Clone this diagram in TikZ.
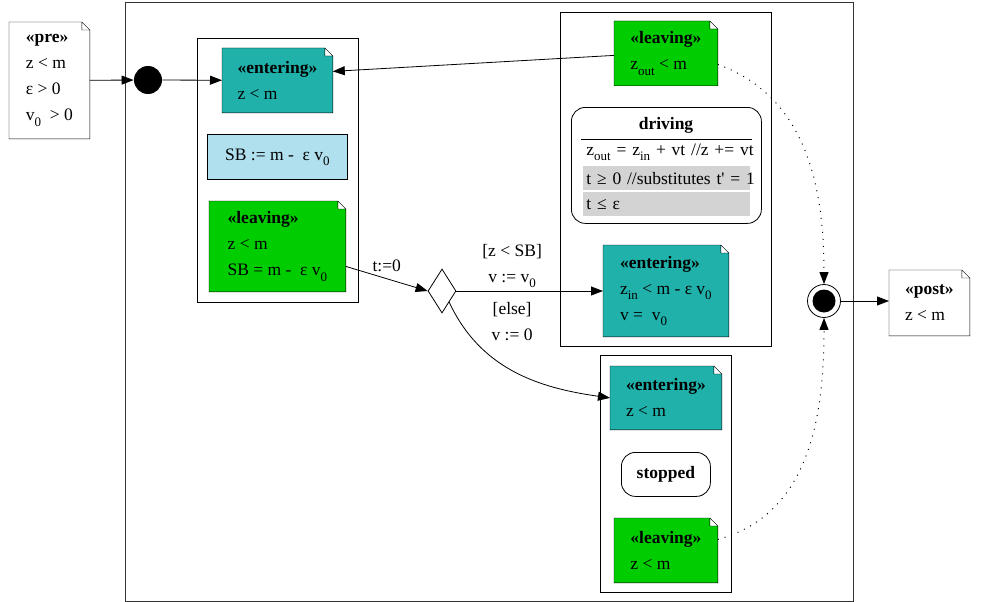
\documentclass[tikz,border=0pt]{standalone}
\usepackage{fontspec}
\setmainfont{Liberation Serif}
\usetikzlibrary{arrows.meta,shapes.geometric,backgrounds}
\definecolor{entercol}{HTML}{20B2AA}
\definecolor{leavecol}{HTML}{00CD00}
\definecolor{sbcol}{HTML}{B0DFEE}
\definecolor{rowcol}{HTML}{D3D3D3}
\newcommand{\lowtx}[1]{\raisebox{-0.3em}{\fontsize{13}{13}\selectfont #1}}
\newcommand{\bodyfont}{\fontsize{17.5}{26}\selectfont}
\hfuzz=20pt
\tikzset{
  note/.style     = {anchor=north west, align=left, inner sep=0pt,
                     font=\bodyfont},
  sbbox/.style    = {draw, fill=sbcol, anchor=north west, inner sep=0pt,
                     font=\bodyfont},
  statebox/.style = {draw, anchor=north west, inner sep=0pt,
                     rounded corners=14pt, font=\bodyfont\bfseries},
  row/.style      = {anchor=north west, align=left, inner xsep=3pt,
                     inner ysep=0pt, minimum height=24pt, text width=161pt,
                     font=\bodyfont},
  initdot/.style  = {circle, fill=black, minimum size=28pt, inner sep=0pt},
  finaldot/.style = {circle, draw, minimum size=33pt, inner sep=0pt,
                     path picture={\fill (path picture bounding box.center)
                     circle (11.5pt);}},
  choice/.style   = {diamond, draw, minimum width=28pt, minimum height=44pt,
                     inner sep=0pt},
  lbl/.style      = {align=center, inner sep=2pt, font=\bodyfont},
  edge/.style     = {draw, -{Triangle[length=12pt,width=9pt]}},
  dotedge/.style  = {edge, line width=1pt, dash pattern=on 1pt off 6pt}
}

\begin{document}
\begin{tikzpicture}[x=1pt, y=-1pt, line width=0.8pt]
  \useasboundingbox (0,0) rectangle (983,602);

  % frames
  \draw[black!80] (125,2) rectangle (853,601);
  \draw (197,38) rectangle (358,302);
  \draw (560,12) rectangle (771,346);
  \draw (600,355) rectangle (731,592);

  % pre / post
  \node[note, minimum width=80pt, minimum height=116pt] (pre) at (9,22)
    {\textbf{«pre»}\\z < m\\ε > 0\\v\lowtx{0}\ \ > 0};
  \node[note, minimum width=80pt, minimum height=65pt] (post) at (889,270)
    {\textbf{«post»}\\z < m\hspace{20pt}};

  \node[initdot] (init) at (148,80) {};
  \node[finaldot] (fin) at (824,301) {};

  % left state
  \node[note, minimum width=110pt, minimum height=64pt] (ent1) at (222,48)
    {\textbf{«entering»}\\z < m};
  \node[sbbox, minimum width=140pt, minimum height=45pt] (sb) at (207,134)
    {SB := m -\ \ ε v\lowtx{0}};
  \node[note, minimum width=136pt, minimum height=90pt] (leav1) at (209,201)
    {\textbf{«leaving»}\\z < m\\SB = m -\ \ ε v\lowtx{0}};

  % driving
  \node[note, minimum width=103pt, minimum height=64pt] (leav2) at (614,21)
    {\textbf{«leaving»}\\z\lowtx{out} < m};
  \node[statebox, minimum width=190pt, minimum height=116pt] (drive) at (571,107) {};
  \node[font=\bodyfont\bfseries] (drivename) at (666,125) {driving};
  \draw (581,139) -- (752,139);
  \node[row] (row1) at (583,140) {\mbox{z\lowtx{out} = z\lowtx{in} + vt //z += vt}};
  \node[row, fill=rowcol] (row2) at (583,166)
    {\mbox{t ≥ 0 //substitutes t\textquotesingle\ = 1}};
  \node[row, fill=rowcol] (row3) at (583,192) {t ≤ ε};
  \node[note, minimum width=125pt, minimum height=91pt] (ent2) at (603,245)
    {\textbf{«entering»}\\z\lowtx{in} < m - ε v\lowtx{0}\\v =\ \ v\lowtx{0}};

  % stopped
  \node[note, minimum width=111pt, minimum height=63pt] (ent3) at (610,366)
    {\textbf{«entering»}\\z < m};
  \node[statebox, minimum width=89pt, minimum height=44pt] (stop) at (621,452) {stopped};
  \node[note, minimum width=103pt, minimum height=64pt] (leav3) at (614,518)
    {\textbf{«leaving»}\\z < m};

  \node[choice] (dia) at (442,291) {};

  % edges
  \draw[edge] (pre) -- (init);
  \draw[edge] (init) -- (ent1);
  \draw[edge] ([yshift=-2pt]leav2.west) -- ([yshift=9pt]ent1.east);
  \draw[edge] ([yshift=-20pt]leav1.east) -- (dia.west)
    node[lbl, midway, above=5pt] {t:=0};
  \draw[edge] (dia.east) -- (ent2.west |- dia.east)
    node[lbl, pos=0.38, above=1pt] {[z < SB]\\v := v\lowtx{0}}
    node[lbl, pos=0.38, below=9pt] {[else]\\v := 0};
  \draw[edge] (dia.south east) to[out=-65, in=172] (ent3.west);
  \draw[dotedge] ([yshift=-11pt]leav2.east) to[out=-20, in=90] (fin.north);
  \draw[dotedge] ([yshift=11pt]leav3.east) to[out=15, in=-90] (fin.south);
  \draw[edge] (fin) -- (post.west |- fin);

  % note outlines with folded corner
  \begin{scope}[on background layer]
    \foreach \n/\c in {pre/white, post/white, ent1/entercol, leav1/leavecol,
                       leav2/leavecol, ent2/entercol, ent3/entercol, leav3/leavecol}
      \draw[fill=\c] (\n.south west) -- (\n.north west)
        -- ([xshift=-8pt]\n.north east) -- ([yshift=-8pt]\n.north east)
        -- (\n.south east) -- cycle
        ([xshift=-8pt]\n.north east) |- ([yshift=-8pt]\n.north east);
  \end{scope}
\end{tikzpicture}
\end{document}
